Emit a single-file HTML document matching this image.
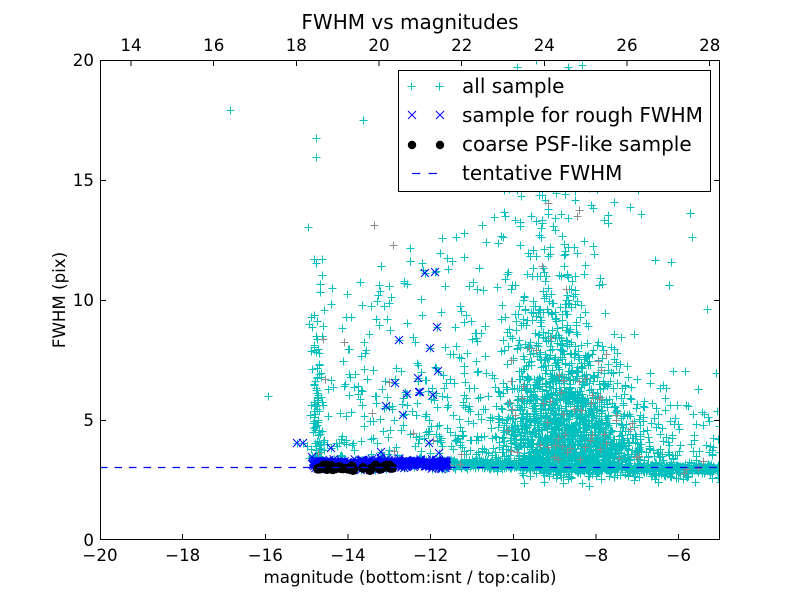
<!DOCTYPE html>
<html><head><meta charset="utf-8">
<style>
html,body{margin:0;padding:0;background:#fff;}
svg{display:block;}
text{font-family:"DejaVu Sans","Liberation Sans",sans-serif;fill:#000;}
</style></head><body>
<svg id="s" width="800" height="600" viewBox="0 0 800 600" xmlns="http://www.w3.org/2000/svg">
<defs><clipPath id="c"><rect x="100" y="60" width="620" height="480"/></clipPath></defs>
<rect width="800" height="600" fill="#fff"/>
<g clip-path="url(#c)">
<path id="pc" fill="none" stroke="#00bfbf" stroke-width="1"/>
<path id="pg" fill="none" stroke="#8c8c8c" stroke-width="1"/>
<path id="pb" fill="none" stroke="#0000ff" stroke-width="1"/>
<g id="dots" fill="#000" stroke="#000" stroke-width="0.7"></g>
<line x1="100" y1="467.5" x2="720" y2="467.5" stroke="#0000ff" stroke-width="1.2" stroke-dasharray="7.5 7"/>
</g>
<g stroke="#000" stroke-width="1" shape-rendering="crispEdges" fill="none">
<rect x="100.5" y="60.5" width="619" height="479"/>
<path d="M182.7 540v-6M265.3 540v-6M348 540v-6M430.7 540v-6M513.3 540v-6M596 540v-6M678.7 540v-6
M131 60v6M213.7 60v6M296.3 60v6M379 60v6M461.7 60v6M544.3 60v6M627 60v6M709.7 60v6
M100 420.5h6M100 300.5h6M100 180.5h6M720 420.5h-6M720 300.5h-6M720 180.5h-6"/>
</g>
<g font-size="16.67" text-anchor="middle">
<text x="100" y="561">−20</text>
<text x="182.7" y="561">−18</text>
<text x="265.3" y="561">−16</text>
<text x="348" y="561">−14</text>
<text x="430.7" y="561">−12</text>
<text x="513.3" y="561">−10</text>
<text x="596" y="561">−8</text>
<text x="678.7" y="561">−6</text>
<text x="131" y="51">14</text>
<text x="213.7" y="51">16</text>
<text x="296.3" y="51">18</text>
<text x="379" y="51">20</text>
<text x="461.7" y="51">22</text>
<text x="544.3" y="51">24</text>
<text x="627" y="51">26</text>
<text x="709.7" y="51">28</text>
</g>
<g font-size="16.67" text-anchor="end">
<text x="94" y="546">0</text>
<text x="94" y="426">5</text>
<text x="94" y="306">10</text>
<text x="94" y="186">15</text>
<text x="94" y="66">20</text>
</g>
<text x="410" y="29" font-size="20" text-anchor="middle">FWHM vs magnitudes</text>
<text x="410" y="583" font-size="16.67" text-anchor="middle">magnitude (bottom:isnt / top:calib)</text>
<text transform="translate(65,300) rotate(-90)" font-size="16.67" text-anchor="middle">FWHM (pix)</text>
<!-- legend -->
<rect x="398.5" y="70.5" width="312" height="121" fill="#fff" stroke="#000" stroke-width="1"/>
<path d="M407.5 86.5h8M411.5 82.5v8M435.5 86.5h8M439.5 82.5v8" stroke="#00bfbf" stroke-width="1" fill="none"/>
<path d="M408 111l8 8m0 -8l-8 8M436 111l8 8m0 -8l-8 8" stroke="#0000ff" stroke-width="1" fill="none"/>
<circle cx="412" cy="145" r="4.2" fill="#000"/>
<circle cx="440" cy="145" r="4.2" fill="#000"/>
<line x1="412" y1="173.5" x2="440" y2="173.5" stroke="#0000ff" stroke-width="1.2" stroke-dasharray="8.3 8.3"/>
<g font-size="20">
<text x="462" y="93">all sample</text>
<text x="462" y="122">sample for rough FWHM</text>
<text x="462" y="151">coarse PSF-like sample</text>
<text x="462" y="180">tentative FWHM</text>
</g>
</svg>
<script>
(function(){
function rng(seed){return function(){seed|=0;seed=seed+0x6D2B79F5|0;var t=Math.imul(seed^seed>>>15,1|seed);t=t+Math.imul(t^t>>>7,61|t)^t;return((t^t>>>14)>>>0)/4294967296;};}
var R=rng(20240611);
function U(a,b){return a+(b-a)*R();}
function N(){var u=R()||1e-9,v=R();return Math.sqrt(-2*Math.log(u))*Math.cos(2*Math.PI*v);}
function E(m){return -m*Math.log(1-R());}
function X(m){return 100+(m+20)*41.3333;}
function Y(f){return 540-f*24;}
var cs=[],gs=[],bs=[],dots=[];
function P(x,y){x=Math.round(x)+0.5;y=Math.round(y)+0.5;return 'M'+(x-4)+' '+y+'h8M'+x+' '+(y-4)+'v8';}
function XX(x,y){return 'M'+(x-4).toFixed(1)+' '+(y-4).toFixed(1)+'l8 8m0 -8l-8 8';}
function addC(m,f,gp){var s=P(X(m),Y(f));if(gp&&R()<gp)gs.push(s);else cs.push(s);}
function addPix(x,y,gp){var s=P(x,y);if(gp&&R()<gp)gs.push(s);else cs.push(s);}
var i,m,f,c,s;
var GP=0.03;
// right band
for(i=0;i<1000;i++){m=U(-11.7,-5.0);f=3.18-0.03*(m+11.7)+N()*0.09;addC(m,f,0.005);}
for(i=0;i<200;i++){m=U(-9.8,-5.0);f=3.05-Math.abs(N())*0.28;addC(m,f,0.02);}
// core cloud
for(i=0;i<1500;i++){f=3.3+E(2.0);if(f>19)continue;c=-8.6-0.07*(f-3.3);s=Math.max(0.42,0.92-0.07*(f-3.3));m=c+N()*s;addC(m,f,GP);}
// halo
for(i=0;i<320;i++){f=3.4+E(4.5);m=-8.95+N()*0.9;addC(m,f,GP);}
// top extra
for(i=0;i<40;i++){m=-8.9+N()*0.8;f=U(13,20.5);addC(m,f,GP);}
// upper fill
for(i=0;i<90;i++){m=-8.9+N()*0.9;f=U(10,20.5);addC(m,f,GP);}
// right side
for(i=0;i<120;i++){m=U(-7.5,-5.0);f=3.3+E(1.5);addC(m,f,GP);}
// mid
for(i=0;i<55;i++){m=U(-12,-10.5);f=3.5+E(3);if(f>14)continue;addC(m,f,GP);}
// left scatter
for(i=0;i<250;i++){m=U(-15.0,-10.8);do{f=3.4+E(3.8);}while(f>13.2);addC(m,f,GP);}
// column
for(i=0;i<75;i++){m=-14.75+N()*0.07;do{f=3.4+E(3.0);}while(f>17);addC(m,f,GP);}
// isolated
[[230,110],[268,396],[363,120],[707,309],[692,237],[617,156],[690,213],[316,138],[316,157]].forEach(function(p){addPix(p[0],p[1],0);});
// blue band
for(i=0;i<450;i++){m=U(-14.85,-11.6);f=3.18+N()*0.08;var x=X(m),y=Y(f);cs.push(P(x,y));bs.push(XX(x,y));}
// blue sparse
[[297,443],[331,448],[312,457],[386,406],[403,415],[407,394],[419,392],[433,395],[395,383],[429,443],[439,453],[381,452],[399,340],[425,273],[435,272],[437,327],[430,348],[438,371],[418,378],[420,392],[303,443]].forEach(function(p){cs.push(P(p[0],p[1]));bs.push(XX(p[0],p[1]));});
// black dots
for(i=0;i<32;i++){m=U(-14.8,-12.8);f=3.02+N()*0.07;var x2=X(m),y2=Y(f);cs.push(P(x2,y2));bs.push(XX(x2,y2));dots.push([x2,y2]);}
document.getElementById('pc').setAttribute('d',cs.join(''));
document.getElementById('pg').setAttribute('d',gs.join(''));
document.getElementById('pb').setAttribute('d',bs.join(''));
var g=document.getElementById('dots'),ns='http://www.w3.org/2000/svg';
dots.forEach(function(d){var e=document.createElementNS(ns,'circle');e.setAttribute('cx',d[0].toFixed(1));e.setAttribute('cy',d[1].toFixed(1));e.setAttribute('r','4.6');g.appendChild(e);});
})();
</script>
</body></html>
